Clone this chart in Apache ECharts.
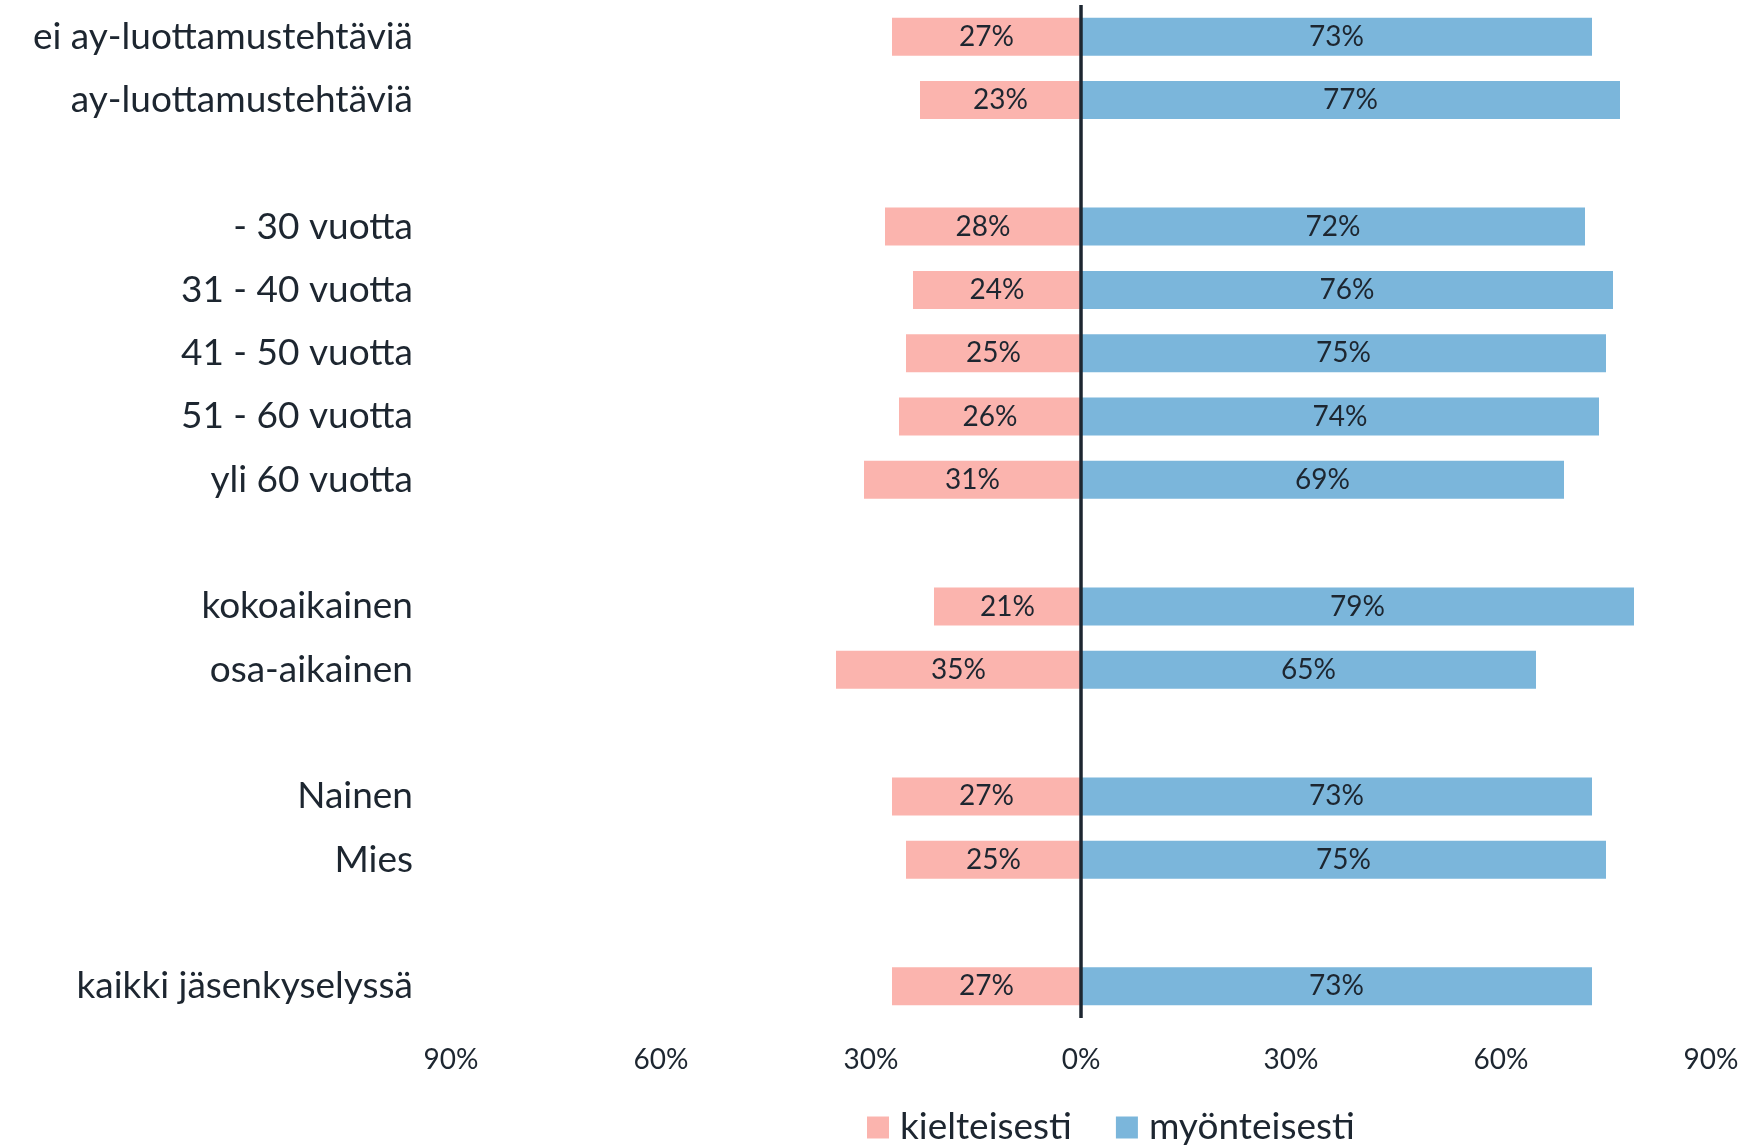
<!DOCTYPE html>
<html>
<head>
<meta charset="utf-8">
<script src="https://cdn.jsdelivr.net/npm/echarts@6/dist/echarts.min.js"></script>
<style>
  html, body { margin: 0; padding: 0; background: #fff; }
  #chart { width: 1751px; height: 1146px; }
</style>
</head>
<body>
<div id="chart"></div>
<script>
// ryhmät (tyhjät rivit = välit ryhmien välissä)
var categories = ["ei ay-luottamustehtäviä", "ay-luottamustehtäviä", "",
  "- 30 vuotta", "31 - 40 vuotta", "41 - 50 vuotta", "51 - 60 vuotta", "yli 60 vuotta", "",
  "kokoaikainen", "osa-aikainen", "",
  "Nainen", "Mies", "",
  "kaikki jäsenkyselyssä"
];
var kielteisesti = [27, 23, null, 28, 24, 25, 26, 31, null, 21, 35, null, 27, 25, null, 27];
var myonteisesti = [73, 77, null, 72, 76, 75, 74, 69, null, 79, 65, null, 73, 75, null, 73];
var xTicks = [-90, -60, -30, 0, 30, 60, 90];

var textColor = "#1d2630";
var fontName = "Lato";

var chart = echarts.init(document.getElementById("chart"));

// negatiiviset arvot vasemmalle
var negData = kielteisesti.map(function (v) {
  return v === null ? null : -v;
});

function pctLabel (p) {
  return Math.abs(p.value) + "%";
}

var option = {
  animation: false,
  textStyle: { fontFamily: fontName },
  legend: {
    data: ["kielteisesti", "myönteisesti"],
    left: 862,
    top: 1104,
    itemWidth: 22,
    itemHeight: 22,
    itemGap: 44,
    icon: "rect",
    textStyle: { fontSize: 37, color: textColor, fontFamily: fontName, padding: [0, 0, 0, 6] }
  },
  grid: {
    left: 451,
    right: 40,
    top: 5,
    height: 1013,
    containLabel: false
  },
  xAxis: {
    type: "value",
    min: xTicks[0],
    max: xTicks[xTicks.length - 1],
    interval: 30,
    splitLine: { show: false },
    axisLine: { show: false },
    axisTick: { show: false },
    axisLabel: {
      margin: 28,
      fontSize: 28,
      color: textColor,
      formatter: function (v) { return Math.abs(v) + "%"; }
    }
  },
  yAxis: {
    type: "category",
    inverse: true,
    data: categories,
    axisLine: { show: false },
    axisTick: { show: false },
    axisLabel: {
      margin: 38,
      fontSize: 37,
      color: textColor
    }
  },
  series: [
    {
      name: "kielteisesti",
      type: "bar",
      stack: "all",
      barCategoryGap: "40%",
      data: negData,
      itemStyle: { color: "#fbb4ae" },
      label: { show: true, position: "inside", fontSize: 28, color: textColor, formatter: pctLabel },
      markLine: {
        silent: true,
        symbol: "none",
        label: { show: false },
        lineStyle: { color: textColor, width: 3.5, type: "solid" },
        data: [{ xAxis: 0 }]
      }
    },
    {
      name: "myönteisesti",
      type: "bar",
      stack: "all",
      barCategoryGap: "40%",
      data: myonteisesti,
      itemStyle: { color: "#7bb6db" },
      label: { show: true, position: "inside", fontSize: 28, color: textColor, formatter: pctLabel }
    }
  ]
};

chart.setOption(option);
</script>
</body>
</html>
